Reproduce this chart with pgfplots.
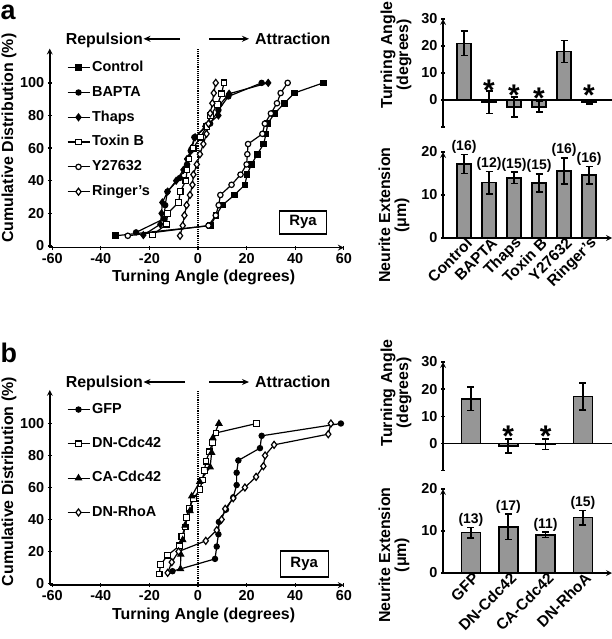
\documentclass[border=0pt]{standalone}
\usepackage{fontspec}
\setmainfont{Liberation Sans}
\usepackage{pgfplots}
\pgfplotsset{compat=1.18}
\usetikzlibrary{arrows.meta}
\definecolor{barfill}{RGB}{150,150,150}
\newcommand{\fs}[1]{\fontsize{#1}{#1}\selectfont\bfseries}
\pgfplotsset{
  common/.style={
    scale only axis,
    axis line style={-, line width=1.6bp, black},
    tick style={line width=1.3bp, black},
    major tick length=4bp,
    tick align=outside,
    /pgf/number format/assume math mode=true,
    tick label style={font=\fs{14.5}},
    label style={font=\fs{16}},
  },
  cum/.style={
    common,
    width=294bp,
    xmin=-61, xmax=60, ymin=-1, ymax=121,
    axis x line=bottom, axis y line=left,
    xtick={-60,-40,...,60}, ytick={0,20,...,100},
    xlabel={Turning Angle (degrees)},
    ylabel={Cumulative Distribution (\%)},
    legend cell align=left,
    legend style={draw=none, fill=none, inner sep=0pt, font=\fs{14.5},
      nodes={inner sep=0pt, text height=10.5bp, text depth=3bp},
      /tikz/every odd column/.append style={column sep=2bp}},
    legend image code/.code={\draw[mark repeat=2,mark phase=2] plot coordinates {(0bp,0bp) (11bp,0bp) (22bp,0bp)};},
  },
  ln/.style={line width=1.2bp, black, mark options={line width=1bp, solid}},
  barax/.style={
    common,
    width=169bp,
    axis y line=left,
    xtick=\empty,
    ylabel style={align=center, anchor=center, font=\fs{16}},
  },
  bars/.style={ybar, bar width=#1, fill=barfill, draw=black, line width=1.6bp,
    error bars/.cd, y dir=both, y explicit,
    error bar style={line width=1.6bp, black},
    error mark options={rotate=90, mark size=3.5bp, line width=1.6bp, black}},
  nlab/.style={draw=none, nodes near coords, point meta=explicit symbolic,
    nodes near coords style={font=\fs{14}, anchor=south, inner sep=1bp, black}},
  star/.style={draw=none, nodes near coords, point meta=explicit symbolic,
    nodes near coords style={font=\fs{30}, anchor=center, inner sep=0bp, black}},
  xrot/.style={xtick style={draw=none},
    xticklabel style={font=\fs{15.5}, xshift=6bp, rotate=45, anchor=east, inner sep=1bp}},
}
\begin{document}
\begin{tikzpicture}
\path[use as bounding box] (0bp,0bp) rectangle (612bp,-639bp);

% ---------------- panel a: cumulative ----------------
\begin{axis}[cum, height=199bp, at={(49.8bp,-247.6bp)}, anchor=south west,
  ylabel style={at={(axis description cs:-0.139,0.55)}, anchor=center},
  xlabel style={at={(axis description cs:0.523,-0.148)}, anchor=center},
  legend style={at={(axis description cs:0.0575,0.939)}, anchor=north west, row sep=11.3bp}]
\addplot[densely dotted, line width=1.2bp, forget plot] coordinates {(0,-1) (0,121)};
\addplot[ln, mark=square*, mark size=2.8bp] coordinates {(-34,6.25)(5.2,12.5)(7.4,18.75)(10,25)(15,31.25)(19.3,37.5)(20.2,43.75)(22,50)(24.4,56.25)(27,62.5)(28,68.75)(28.7,75)(31.5,81.25)(35.6,87.5)(39.6,93.75)(51.6,100)};
\addlegendentry{Control}
\addplot[ln, mark=*, mark size=2.7bp] coordinates {(-25.5,8.33)(-14,16.67)(-13.5,25)(-12.6,33.33)(-7.5,41.67)(-4.5,50)(-3,58.33)(-1.5,66.67)(5,75)(8.4,83.33)(12.5,91.67)(26.2,100)};
\addlegendentry{BAPTA}
\addplot[ln, mark=diamond*, mark size=3.5bp] coordinates {(-22.5,6.67)(-15.5,13.33)(-15,20)(-14.7,26.67)(-12.5,33.33)(-9,40)(-6,46.67)(-4.5,53.33)(-2.6,60)(-1.2,66.67)(3,73.33)(8.4,80)(9,86.67)(12.8,93.33)(28.9,100)};
\addlegendentry{Thaps}
\addplot[ln, mark=square*, mark size=2.8bp, mark options={fill=white}] coordinates {(-18.7,6.67)(-13,13.33)(-12.5,20)(-8,26.67)(-7.3,33.33)(-5,40)(-4.5,46.67)(-3.7,53.33)(-2,60)(1,66.67)(3.6,73.33)(5.2,80)(8,86.67)(9.7,93.33)(10.7,100)};
\addlegendentry{Toxin B}
\addplot[ln, mark=*, mark size=2.7bp, mark options={fill=white}] coordinates {(-28.9,6.25)(4.3,12.5)(7.3,18.75)(8.5,25)(9.2,31.25)(13.8,37.5)(17.5,43.75)(20,50)(20.3,56.25)(20.6,62.5)(26.5,68.75)(27.5,75)(30,81.25)(32.5,87.5)(34,93.75)(36.9,100)};
\addlegendentry{Y27632}
\addplot[ln, mark=diamond*, mark size=3.5bp, mark options={fill=white}] coordinates {(-7.4,6.25)(-6.3,12.5)(-5.6,18.75)(-4.7,25)(-3.3,31.25)(-2.3,37.5)(-1.9,43.75)(-0.5,50)(0.8,56.25)(2.2,62.5)(3.5,68.75)(4.3,75)(5,81.25)(5.9,87.5)(6.5,93.75)(7.3,100)};
\addlegendentry{Ringer's}
\end{axis}

% ---------------- panel b: cumulative ----------------
\begin{axis}[cum, height=195.2bp, at={(49.8bp,-585.1bp)}, anchor=south west,
  ylabel style={at={(axis description cs:-0.139,0.53)}, anchor=center},
  xlabel style={at={(axis description cs:0.523,-0.154)}, anchor=center},
  legend style={at={(axis description cs:0.0575,0.935)}, anchor=north west, row sep=20.8bp}]
\addplot[densely dotted, line width=1.2bp, forget plot] coordinates {(0,-1) (0,121)};
\addplot[ln, mark=*, mark size=2.7bp] coordinates {(-10.5,7.69)(7,15.38)(7.7,23.08)(8.4,30.77)(8.6,38.46)(11.5,46.15)(14.5,53.85)(15.9,61.54)(15.9,69.23)(16.6,76.92)(25.5,84.62)(26.2,92.31)(58.8,100)};
\addlegendentry{GFP}
\addplot[ln, mark=square*, mark size=2.8bp, mark options={fill=white}] coordinates {(-16,5.88)(-15.4,11.76)(-12.5,17.65)(-7.7,23.53)(-6.7,29.41)(-5.3,35.29)(-4.7,41.18)(-3.6,47.06)(-1.9,52.94)(0.8,58.82)(1.8,64.71)(2.6,70.59)(3.3,76.47)(4.7,82.35)(6,88.24)(7.4,94.12)(24.1,100)};
\addlegendentry{DN-Cdc42}
\addplot[ln, mark=triangle*, mark size=3.5bp] coordinates {(-7.2,9.09)(-7.1,18.18)(-6.3,27.27)(-5.3,36.36)(-3.3,45.45)(-2.6,54.55)(0.7,63.64)(5,72.73)(5.6,81.82)(6.1,90.91)(8.6,100)};
\addlegendentry{CA-Cdc42}
\addplot[ln, mark=diamond*, mark size=3.5bp, mark options={fill=white}] coordinates {(-12.5,6.67)(-10.8,13.33)(-8,20)(3.2,26.67)(7.7,33.33)(9.7,40)(11.2,46.67)(14.5,53.33)(19.3,60)(23.9,66.67)(26.9,73.33)(27.6,80)(31.3,86.67)(53.6,93.33)(54.7,100)};
\addlegendentry{DN-RhoA}
\end{axis}

% ---------------- panel a: turning angle bars ----------------
\begin{axis}[barax, height=108bp, at={(443bp,-127bp)}, anchor=south west,
  axis x line=none, xmin=-0.84, xmax=5.92, ymin=-10, ymax=30,
  ytick={-10,0,10,20,30}, yticklabels={,0,10,20,30},
  ylabel={Turning Angle\\(degrees)},
  ylabel style={at={(axis description cs:-0.278,0.667)}}]
\addplot[line width=1.6bp, black] coordinates {(-0.84,0) (5.92,0)};
\addplot[bars=14bp] table[x=x, y=y, y error=e] {
x y e
0 21 4.5
1 -0.8 4.2
2 -2.5 3.7
3 -2.5 1.9
4 18 4.1
5 -0.8 0.6
};
\addplot[star] table[x=x, y=y, meta=l] {
x y l
1 3.8 *
2 1.6 *
3 0.7 *
5 1.6 *
};
\end{axis}

% ---------------- panel a: neurite extension bars ----------------
\begin{axis}[barax, xrot, height=86bp, at={(443bp,-238bp)}, anchor=south west,
  axis x line=bottom, xmin=-0.84, xmax=5.92, ymin=0, ymax=20,
  ytick={0,10,20},
  xtick={0,1,2,3,4,5}, xticklabels={Control,BAPTA,Thaps,Toxin B,Y27632,Ringer's},
  ylabel={Neurite Extension\\(μm)},
  ylabel style={at={(axis description cs:-0.29,0.267)}}]
\addplot[bars=14bp] table[x=x, y=y, y error=e] {
x y e
0 17.2 2.2
1 12.9 2.6
2 14.0 1.3
3 12.8 2.1
4 15.6 3.0
5 14.6 2.0
};
\addplot[nlab] table[x=x, y=y, meta=l] {
x y l
0 19.4 (16)
1 15.5 (12)
2 15.3 (15)
3 14.9 (15)
4 18.6 (16)
5 16.6 (16)
};
\end{axis}

% ---------------- panel b: turning angle bars ----------------
\begin{axis}[barax, height=108.4bp, at={(443bp,-470.4bp)}, anchor=south west,
  axis x line=none, xmin=-0.75, xmax=3.78, ymin=-10, ymax=30,
  ytick={-10,0,10,20,30}, yticklabels={,0,10,20,30},
  ylabel={Turning Angle\\(degrees)},
  ylabel style={at={(axis description cs:-0.278,0.714)}}]
\addplot[line width=1.6bp, black] coordinates {(-0.75,0) (3.78,0)};
\addplot[bars=19bp] table[x=x, y=y, y error=e] {
x y e
0 16.4 4.3
1 -1.0 2.5
2 -0.3 2.0
3 17.2 5.0
};
\addplot[star] table[x=x, y=y, meta=l] {
x y l
1 2.5 *
2 2.5 *
};
\end{axis}

% ---------------- panel b: neurite extension bars ----------------
\begin{axis}[barax, xrot, height=84bp, at={(443bp,-573bp)}, anchor=south west,
  axis x line=bottom, xmin=-0.75, xmax=3.78, ymin=0, ymax=20,
  ytick={0,10,20},
  xtick={0,1,2,3}, xticklabels={GFP,DN-Cdc42,CA-Cdc42,DN-RhoA},
  ylabel={Neurite Extension\\(μm)},
  ylabel style={at={(axis description cs:-0.29,0.214)}}]
\addplot[bars=19bp] table[x=x, y=y, y error=e] {
x y e
0 9.6 1.2
1 11.0 3.0
2 9.1 0.6
3 13.2 1.7
};
\addplot[nlab] table[x=x, y=y, meta=l] {
x y l
0 10.8 (13)
1 14.0 (17)
2 9.7 (11)
3 14.9 (15)
};
\end{axis}

% ---------------- annotations ----------------
\node[anchor=base west, inner sep=0pt] at (0.5bp,-19bp) {\fs{27}a};
\node[anchor=base west, inner sep=0pt] at (0.5bp,-362bp) {\fs{27}b};

\node[anchor=base east, inner sep=0pt] at (143bp,-44bp) {\fs{16}Repulsion};
\draw[line width=1.4bp, -{Stealth[length=7bp,width=6bp]}] (180bp,-38.8bp) -- (143.5bp,-38.8bp);
\draw[line width=1.4bp, -{Stealth[length=7bp,width=6bp]}] (209bp,-38.8bp) -- (249bp,-38.8bp);
\node[anchor=base west, inner sep=0pt] at (255bp,-44bp) {\fs{16}Attraction};

\node[anchor=base east, inner sep=0pt] at (143bp,-387.4bp) {\fs{16}Repulsion};
\draw[line width=1.4bp, -{Stealth[length=7bp,width=6bp]}] (185bp,-382bp) -- (143.5bp,-382bp);
\draw[line width=1.4bp, -{Stealth[length=7bp,width=6bp]}] (209bp,-382bp) -- (249bp,-382bp);
\node[anchor=base west, inner sep=0pt] at (255bp,-387.4bp) {\fs{16}Attraction};

\node[draw, line width=1.4bp, minimum width=47bp, minimum height=23bp, inner sep=0pt] at (303bp,-222.3bp) {\fs{15}Rya};
\node[draw, line width=1.4bp, minimum width=48bp, minimum height=26bp, inner sep=0pt] at (304.2bp,-564bp) {\fs{15}Rya};
\end{tikzpicture}
\end{document}
